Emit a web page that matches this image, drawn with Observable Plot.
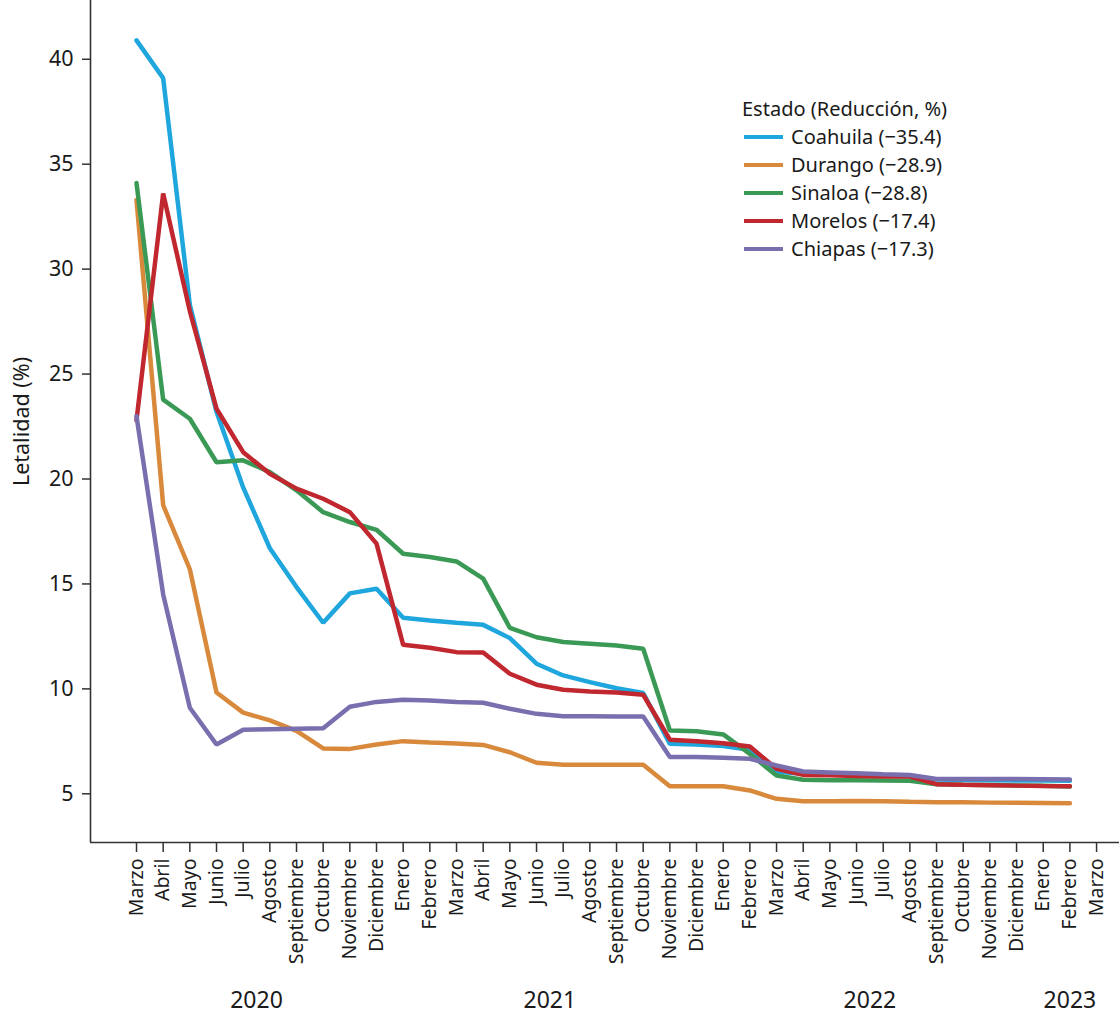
<!DOCTYPE html>
<html><head><meta charset="utf-8">
<script src="https://cdn.jsdelivr.net/npm/d3@7"></script>
<script src="https://cdn.jsdelivr.net/npm/@observablehq/plot@0.6"></script>
<style>
body{margin:0;background:#fff;font-family:"Noto Sans",sans-serif;}
#wrap{position:relative;width:1119px;height:1024px;overflow:hidden;}
#legend{position:absolute;left:742px;top:95px;font-size:20px;color:#1a1a1a;line-height:28px;}
#legend .r{display:flex;align-items:center;}
#legend .s{display:inline-block;width:39px;height:4.5px;margin-right:8px;margin-left:2px;}
</style></head><body><div id="wrap"></div>
<script>
const months = ["Marzo","Abril","Mayo","Junio","Julio","Agosto","Septiembre","Octubre","Noviembre","Diciembre",
  "Enero","Febrero","Marzo","Abril","Mayo","Junio","Julio","Agosto","Septiembre","Octubre","Noviembre","Diciembre",
  "Enero","Febrero","Marzo","Abril","Mayo","Junio","Julio","Agosto","Septiembre","Octubre","Noviembre","Diciembre",
  "Enero","Febrero","Marzo"];
const years = ["2020","2021","2022","2023"];
const monthsPerYear = [10,12,12,3];
const yTicks = [5,10,15,20,25,30,35,40];

const states = ["Coahuila","Durango","Sinaloa","Morelos","Chiapas"];
const reductions = ["−35.4","−28.9","−28.8","−17.4","−17.3"];
const colors = ["#1fa6dd","#d9893b","#3a9a55","#c1272e","#7a6fae"];

const coahuila = [40.9,39.1,28.3,23.2,19.6,16.7,14.85,13.15,14.55,14.77,13.39,13.26,13.15,13.05,12.42,11.2,10.64,10.32,10.03,9.8,7.38,7.35,7.28,7.1,6.05,5.95,5.92,5.9,5.88,5.85,5.68,5.66,5.65,5.64,5.63,5.62];
const durango = [33.3,18.75,15.7,9.83,8.87,8.5,8.0,7.16,7.14,7.35,7.51,7.45,7.4,7.33,6.98,6.48,6.38,6.38,6.38,6.38,5.36,5.36,5.36,5.16,4.76,4.65,4.65,4.66,4.65,4.62,4.6,4.6,4.58,4.57,4.56,4.55];
const sinaloa = [34.1,23.78,22.87,20.8,20.89,20.33,19.46,18.42,17.95,17.58,16.44,16.28,16.07,15.25,12.91,12.46,12.23,12.15,12.07,11.91,8.02,7.98,7.83,6.9,5.87,5.67,5.65,5.65,5.63,5.62,5.45,5.43,5.42,5.4,5.38,5.35];
const morelos = [22.8,33.6,28.0,23.35,21.28,20.25,19.54,19.06,18.42,16.92,12.1,11.96,11.75,11.73,10.72,10.2,9.96,9.88,9.83,9.72,7.58,7.51,7.41,7.25,6.19,5.9,5.88,5.85,5.83,5.82,5.46,5.43,5.41,5.39,5.37,5.36];
const chiapas = [23.0,14.5,9.1,7.35,8.05,8.08,8.1,8.12,9.15,9.38,9.48,9.45,9.38,9.34,9.05,8.81,8.7,8.69,8.68,8.68,6.75,6.75,6.72,6.67,6.35,6.06,6.02,5.98,5.93,5.9,5.71,5.71,5.7,5.7,5.69,5.68];
const series = [coahuila, durango, sinaloa, morelos, chiapas];

const data = states.flatMap((s,j)=> series[j].map((v,i)=>({state:s, i, v})));
let start = 0;
const yearData = years.map((y,j)=>{ const c = start + (monthsPerYear[j]-1)/2; start += monthsPerYear[j]; return {year:y, center:c}; });

const xDomain = [-1.725, 36.86];
const yDomain = [2.68, 42.8];

const plot = Plot.plot({
  width:1119, height:1024,
  marginLeft:90, marginRight:0, marginTop:0, marginBottom:182,
  style:{fontFamily:"Noto Sans", fontSize:"20px", color:"#1a1a1a", background:"white", overflow:"visible"},
  x:{type:"linear", domain:xDomain},
  y:{domain:yDomain},
  color:{domain:states, range:colors},
  marks:[
    Plot.axisY({ticks:yTicks, tickSize:8, tickPadding:9, tickFormat:d=>String(d), label:"Letalidad (%)", labelAnchor:"center", labelOffset:77, labelArrow:"none", fontSize:21.5, strokeWidth:1.5, stroke:"#333"}),
    Plot.axisX({ticks:d3.range(months.length), tickFormat:i=>months[i], tickRotate:-90, tickSize:10, tickPadding:6, label:null, fontSize:19.5, strokeWidth:1.5, stroke:"#333"}),
    Plot.ruleX([xDomain[0]], {stroke:"#333", strokeWidth:1.6}),
    Plot.ruleY([yDomain[0]], {stroke:"#333", strokeWidth:1.6}),
    Plot.lineY(data, {x:"i", y:"v", stroke:"state", z:"state", strokeWidth:4.5, strokeLinejoin:"miter"}),
    Plot.text(yearData, {x:"center", text:"year", frameAnchor:"bottom", dy:165, fontSize:23, fill:"#1a1a1a"})
  ]
});
const wrap = document.getElementById("wrap");
wrap.appendChild(plot);

const lg = document.createElement("div");
lg.id = "legend";
lg.innerHTML = `<div class="t">Estado (Reducción, %)</div>` +
  states.map((s,j)=>`<div class="r"><span class="s" style="background:${colors[j]}"></span>${s} (${reductions[j]})</div>`).join("");
wrap.appendChild(lg);
</script>
</body></html>
